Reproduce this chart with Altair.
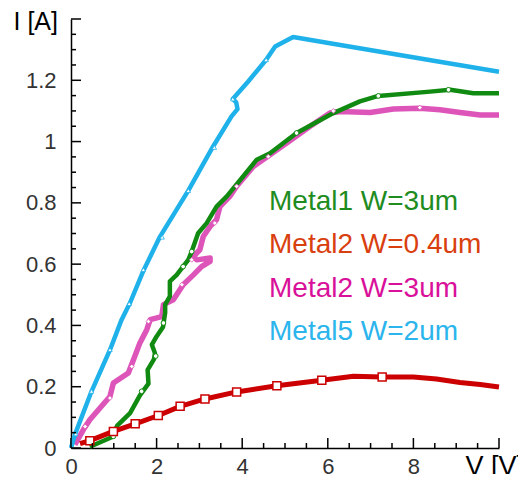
import altair as alt
import pandas as pd

# ---------------- data ----------------
blue_v = [0.0, 0.10, 0.48, 0.91, 1.18, 1.38, 1.69, 2.08, 2.74, 3.32, 3.75, 3.89, 3.86, 3.78, 4.14, 4.56, 4.77, 5.19, 6.29, 10.0]
blue_i = [0.0, 0.047, 0.185, 0.320, 0.418, 0.474, 0.578, 0.690, 0.840, 0.984, 1.082, 1.106, 1.128, 1.139, 1.196, 1.267, 1.310, 1.341, 1.315, 1.228]
blue_mv = [0.11, 0.48, 0.91, 1.36, 1.69, 2.13, 2.74, 3.35, 3.78, 4.56]
blue_mi = [0.046, 0.185, 0.321, 0.471, 0.582, 0.688, 0.840, 0.981, 1.139, 1.267]

green_v = [0.44, 0.95, 1.08, 1.38, 1.61, 1.81, 1.79, 1.94, 1.96, 1.89, 2.00, 2.15, 2.20, 2.20, 2.31, 2.31, 2.47, 2.59, 2.74, 2.82, 2.97, 3.17, 3.40, 3.64, 4.34, 4.65, 5.27, 6.13, 6.75, 7.18, 8.39, 8.86, 9.40, 10.0]
green_i = [0.004, 0.035, 0.073, 0.114, 0.172, 0.210, 0.255, 0.290, 0.310, 0.337, 0.364, 0.395, 0.442, 0.468, 0.495, 0.544, 0.565, 0.587, 0.614, 0.641, 0.701, 0.734, 0.788, 0.821, 0.941, 0.962, 1.028, 1.093, 1.131, 1.149, 1.163, 1.169, 1.158, 1.158]
green_mv = [0.99, 1.65, 1.98, 2.16, 2.62, 2.82, 5.27, 7.18, 8.82]
green_mi = [0.038, 0.185, 0.300, 0.408, 0.592, 0.641, 1.028, 1.149, 1.169]

mag_v = [0.09, 0.29, 0.44, 0.91, 0.99, 1.34, 1.46, 1.61, 1.77, 1.85, 2.12, 2.16, 2.39, 2.62, 2.86, 3.05, 3.25, 3.25, 2.94, 2.86, 3.01, 3.09, 3.25, 3.40, 3.48, 3.71, 3.87, 4.26, 4.65, 5.04, 5.58, 6.05, 6.29, 6.99, 7.53, 8.15, 8.62, 9.09, 9.56, 10.0]
mag_i = [0.011, 0.060, 0.092, 0.168, 0.212, 0.245, 0.288, 0.343, 0.386, 0.419, 0.429, 0.468, 0.484, 0.533, 0.565, 0.592, 0.609, 0.620, 0.614, 0.625, 0.647, 0.690, 0.723, 0.745, 0.788, 0.821, 0.854, 0.919, 0.957, 0.995, 1.049, 1.093, 1.098, 1.095, 1.106, 1.109, 1.104, 1.095, 1.087, 1.087]
mag_mv = [0.33, 0.91, 1.42, 1.81, 2.59, 2.82, 3.36, 3.87, 4.61, 6.13, 8.15]
mag_mi = [0.070, 0.163, 0.266, 0.413, 0.533, 0.614, 0.734, 0.854, 0.951, 1.100, 1.111]

red_v = [0.21, 0.44, 0.99, 1.50, 2.04, 2.55, 3.13, 3.87, 4.81, 5.86, 6.60, 7.27, 8.00, 8.54, 9.09, 9.56, 10.0]
red_i = [0.014, 0.024, 0.054, 0.079, 0.106, 0.136, 0.160, 0.183, 0.203, 0.221, 0.234, 0.232, 0.232, 0.225, 0.214, 0.207, 0.199]
red_mv = [0.44, 0.99, 1.50, 2.04, 2.55, 3.13, 3.87, 4.81, 5.86, 7.27]
red_mi = [0.024, 0.054, 0.079, 0.106, 0.136, 0.160, 0.183, 0.203, 0.221, 0.232]

legend_labels = ["Metal1 W=3um", "Metal2 W=0.4um", "Metal2 W=3um", "Metal5 W=2um"]
legend_colors = ["#1E8C1E", "#D9400F", "#D9119A", "#2BB5EC"]

x_label_values = [0, 2, 4, 6, 8]
y_label_values = [0, 0.2, 0.4, 0.6, 0.8, 1.0, 1.2]
x_major_ticks = [0, 2, 4, 6, 8, 10]
x_minor_ticks = [0.5, 1, 1.5, 2.5, 3, 3.5, 4.5, 5, 5.5, 6.5, 7, 7.5, 8.5, 9, 9.5]
y_major_ticks = [0, 0.2, 0.4, 0.6, 0.8, 1.0, 1.2, 1.4]
y_minor_ticks = [0.05, 0.1, 0.15, 0.25, 0.3, 0.35, 0.45, 0.5, 0.55, 0.65, 0.7, 0.75,
                 0.85, 0.9, 0.95, 1.05, 1.1, 1.15, 1.25, 1.3, 1.35]

# ---------------- chart ----------------
W, H = 428, 429
FONT = "Liberation Sans"

xs = alt.Scale(domain=[0, 10], nice=False, zero=False)
ys = alt.Scale(domain=[0, 1.4], nice=False, zero=False)

x_axis = alt.Axis(values=x_label_values, format="~g", title="V [V]", titleX=394, titleY=26,
                  titleAngle=0, titleAlign="left", titleBaseline="alphabetic", titleFontSize=27,
                  titleFont=FONT, titleFontWeight="normal", titleColor="black",
                  ticks=False, tickSize=0, labelPadding=8, labelFontSize=22, labelFont=FONT,
                  labelColor="#333333", domainColor="black", domainWidth=1.5, grid=False,
                  labelFlush=False)
y_axis = alt.Axis(values=y_label_values, format="~g", title="I [A]", titleX=-58, titleY=10,
                  titleAngle=0, titleAlign="left", titleBaseline="alphabetic", titleFontSize=25,
                  titleFont=FONT, titleFontWeight="normal", titleColor="black",
                  ticks=False, tickSize=0, labelPadding=15, labelFontSize=22, labelFont=FONT,
                  labelColor="#333333", domainColor="black", domainWidth=1.5, grid=False,
                  labelFlush=False)

X = alt.X("V:Q", scale=xs, axis=x_axis)
Y = alt.Y("I:Q", scale=ys, axis=y_axis)


def curve(vs, is_, color, width):
    df = pd.DataFrame({"V": vs, "I": is_, "k": list(range(len(vs)))})
    return alt.Chart(df).mark_line(color=color, strokeWidth=width, strokeJoin="round").encode(
        x=X, y=Y, order="k:Q")


def markers(vs, is_, color, shape, size, sw):
    df = pd.DataFrame({"V": vs, "I": is_})
    return alt.Chart(df).mark_point(shape=shape, size=size, filled=True, fill="white",
                                    stroke=color, strokeWidth=sw, opacity=1).encode(x=X, y=Y)


BLUE, GREEN, MAG, RED = "#1EB1EA", "#118A11", "#DE55BA", "#CC0000"

layers = [
    curve(mag_v, mag_i, MAG, 5.5),
    curve(green_v, green_i, GREEN, 4.5),
    markers(mag_mv, mag_mi, MAG, "diamond", 22, 0.8),
    markers(green_mv, green_mi, GREEN, "circle", 22, 1),
    curve(red_v, red_i, RED, 5),
    markers(red_mv, red_mi, RED, "square", 64, 1.5),
    curve(blue_v, blue_i, BLUE, 4.5),
    markers(blue_mv, blue_mi, BLUE, "triangle-up", 20, 0.8),
]

# inward ticks
layers.append(alt.Chart(pd.DataFrame({"V": x_major_ticks})).mark_rule(color="black", strokeWidth=1.5)
              .encode(x=X, y=alt.value(H), y2=alt.value(H - 10)))
layers.append(alt.Chart(pd.DataFrame({"V": x_minor_ticks})).mark_rule(color="black", strokeWidth=1.5)
              .encode(x=X, y=alt.value(H), y2=alt.value(H - 5)))
layers.append(alt.Chart(pd.DataFrame({"I": y_major_ticks})).mark_rule(color="black", strokeWidth=1.5)
              .encode(y=Y, x=alt.value(0), x2=alt.value(10)))
layers.append(alt.Chart(pd.DataFrame({"I": y_minor_ticks})).mark_rule(color="black", strokeWidth=1.5)
              .encode(y=Y, x=alt.value(0), x2=alt.value(5)))

# legend texts
for k, (lab, col) in enumerate(zip(legend_labels, legend_colors)):
    layers.append(alt.Chart(pd.DataFrame({"t": [lab]})).mark_text(
        align="left", baseline="alphabetic", fontSize=28, font=FONT, color=col)
        .encode(text="t:N", x=alt.value(198), y=alt.value(191 + 43.3 * k)))

chart = alt.layer(*layers).properties(
    width=W, height=H,
    autosize=alt.AutoSizeParams(type="none"),
    padding={"left": 63, "top": 11, "right": 19, "bottom": 26},
).configure_view(stroke=None)

chart.save("out.html", embed_options={"renderer": "svg", "actions": False})
